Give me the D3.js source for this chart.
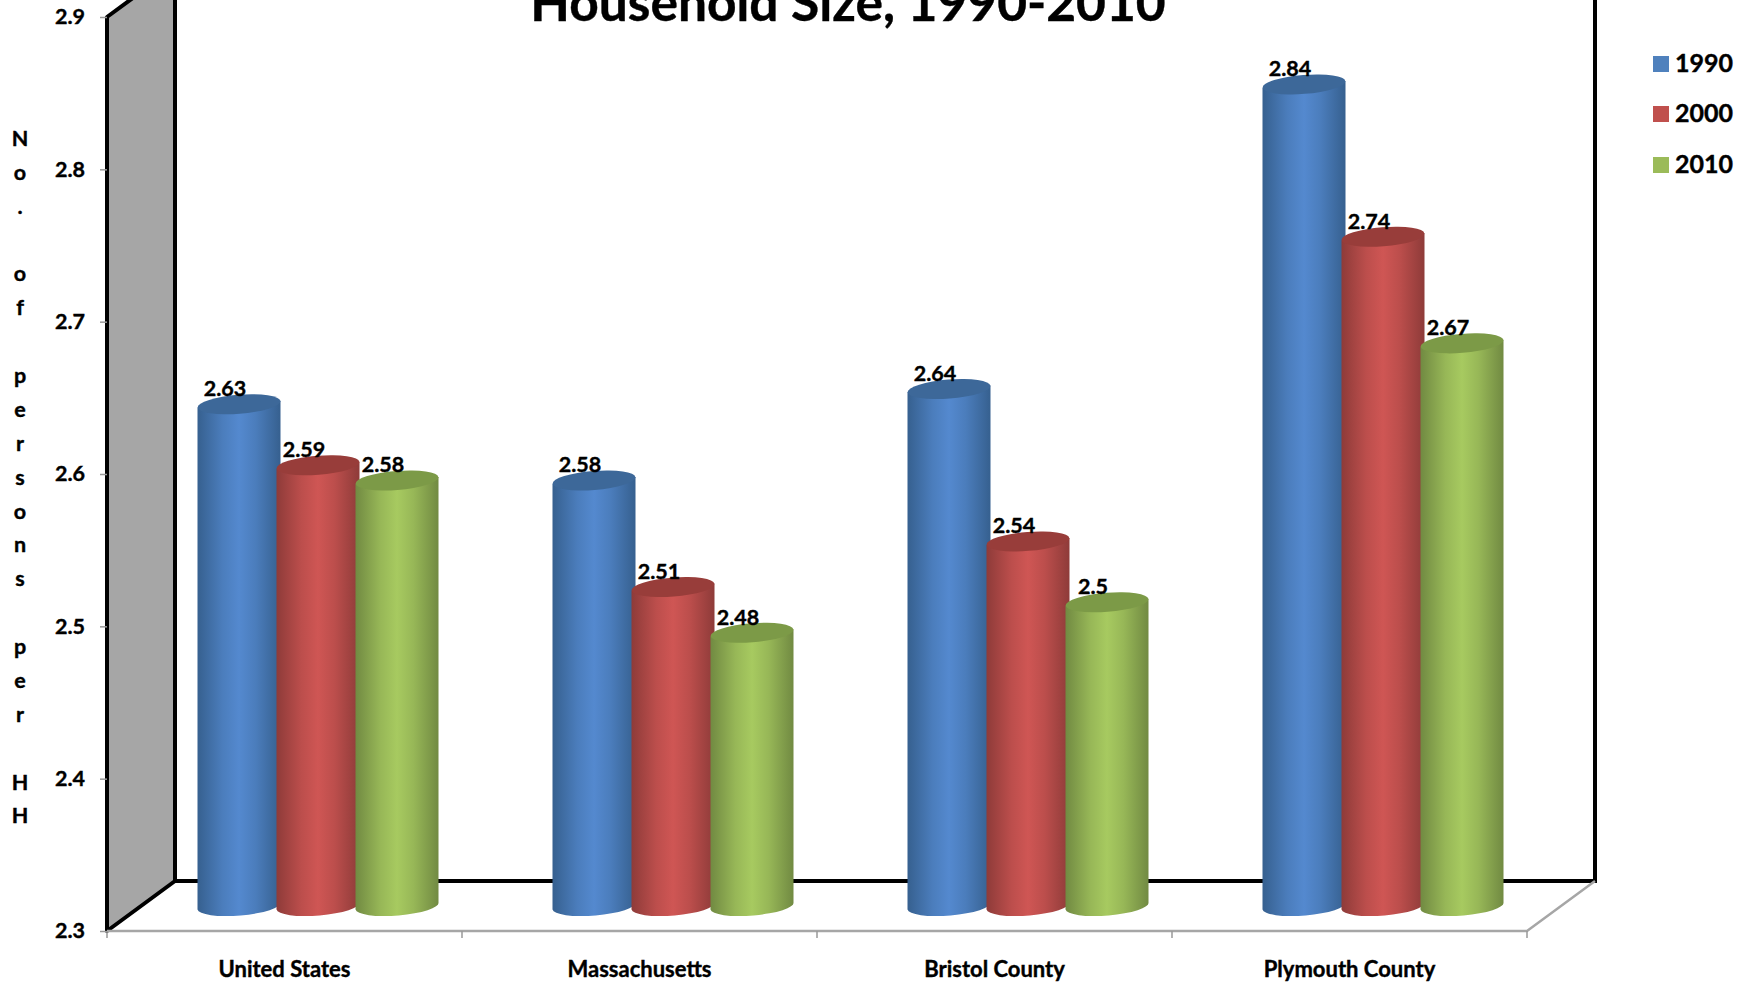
<!DOCTYPE html>
<html>
<head>
<meta charset="utf-8">
<script src="https://cdnjs.cloudflare.com/ajax/libs/d3/7.8.5/d3.min.js"></script>
<style>
  html, body { margin: 0; background: #fff; overflow: hidden; }
  text { font-family: Lato, sans-serif; font-weight: 700; fill: #000; stroke: #000; stroke-width: 0.4px; }
</style>
</head>
<body>
<svg id="chart"></svg>
<script>
const CATEGORIES = ['United States', 'Massachusetts', 'Bristol County', 'Plymouth County'];
const YEARS = ['1990', '2000', '2010'];
const VALUES_1990 = [2.63, 2.58, 2.64, 2.84];
const VALUES_2000 = [2.59, 2.51, 2.54, 2.74];
const VALUES_2010 = [2.58, 2.48, 2.5, 2.67];
const Y_TICKS = [2.3, 2.4, 2.5, 2.6, 2.7, 2.8, 2.9];
const Y_TITLE = 'No. of persons per HH';
const TITLE = 'Household Size, 1990-2010';

const WIDTH = 1754;
const HEIGHT = 985;
const LEFT = 107, RIGHT = 1527, TOP = 17, BOTTOM = 931;
const DEPTH_X = 68, DEPTH_Y = 50; // 3d box offset, front to back

const series = [
  { year: YEARS[0], values: VALUES_1990, key: '#4f81bd', edge: '#36608f', mid: '#5489cf', top: '#3d6899' },
  { year: YEARS[1], values: VALUES_2000, key: '#c0504d', edge: '#8e3b39', mid: '#cf5654', top: '#983d3a' },
  { year: YEARS[2], values: VALUES_2010, key: '#9bbb59', edge: '#718a42', mid: '#a7ca60', top: '#7c9a47' }
];

const svg = d3.select('#chart').attr('width', WIDTH).attr('height', HEIGHT);

const x = d3.scaleBand().domain(CATEGORIES).range([LEFT, RIGHT]);
const y = d3.scaleLinear().domain([2.3, 2.9]).range([BOTTOM, TOP]);
// bars step by 79px but are 83px wide, so they overlap a little
const xYear = d3.scaleBand().domain(YEARS).range([-119, 118]);
const RX = 41.5, RY = 9.5, TILT = -4.5;
const TIP = 3.5; // how far the tilted ellipse ends sit from the centre line
const TOP_SHIFT = 1;

const defs = svg.append('defs');
series.forEach((s, i) => {
  const grad = defs.append('linearGradient').attr('id', 'cyl' + i);
  [[0, s.edge], [0.3, d3.interpolateRgb(s.edge, s.mid)(0.7)], [0.5, s.mid], [0.7, d3.interpolateRgb(s.edge, s.mid)(0.7)], [1, s.edge]]
    .forEach(d => grad.append('stop').attr('offset', d[0]).attr('stop-color', d[1]));
});

// side wall
const wall = [[LEFT, TOP], [LEFT + DEPTH_X, TOP - DEPTH_Y], [LEFT + DEPTH_X, BOTTOM - DEPTH_Y], [LEFT, BOTTOM]];
svg.append('path')
  .attr('d', d3.line()(wall) + 'Z')
  .attr('fill', '#a6a6a6')
  .attr('stroke', '#000')
  .attr('stroke-width', 4)
  .attr('stroke-linejoin', 'round');

// back wall lines
svg.append('path')
  .attr('d', d3.line()([[LEFT + DEPTH_X, BOTTOM - DEPTH_Y], [RIGHT + DEPTH_X, BOTTOM - DEPTH_Y], [RIGHT + DEPTH_X, TOP - DEPTH_Y]]))
  .attr('fill', 'none')
  .attr('stroke', '#000')
  .attr('stroke-width', 4);

// floor outline
svg.append('path')
  .attr('d', d3.line()([[LEFT, BOTTOM], [RIGHT, BOTTOM], [RIGHT + DEPTH_X, BOTTOM - DEPTH_Y]]))
  .attr('fill', 'none')
  .attr('stroke', '#a6a6a6')
  .attr('stroke-width', 2.5);

// y axis
const yAxis = svg.append('g')
  .attr('transform', `translate(${LEFT},0)`)
  .call(d3.axisLeft(y).tickValues(Y_TICKS).tickSize(7).tickPadding(15).tickFormat(d3.format('.1f')));
yAxis.select('.domain').remove();
yAxis.selectAll('line').attr('stroke', '#999').attr('stroke-width', 1.5);
yAxis.selectAll('text').style('font-size', '21.5px');

// x axis: labels from the band scale, ticks on the band edges
const xAxis = svg.append('g')
  .attr('transform', `translate(0,${BOTTOM})`)
  .call(d3.axisBottom(x).tickSize(0).tickPadding(30));
xAxis.select('.domain').remove();
xAxis.selectAll('text').style('font-size', '22px');
xAxis.selectAll('.edge')
  .data(CATEGORIES.concat(['end']))
  .enter()
  .append('line')
  .attr('x1', d => d === 'end' ? RIGHT : x(d))
  .attr('x2', d => d === 'end' ? RIGHT : x(d))
  .attr('y1', 0)
  .attr('y2', 7)
  .attr('stroke', '#999')
  .attr('stroke-width', 1.5);

// cylinders
const barX = (cat, year) => x(cat) + x.bandwidth() / 2 + DEPTH_X / 2 + xYear(year) + xYear.bandwidth() / 2;
const floorY = y(2.3) - DEPTH_Y / 2;

series.forEach((s, i) => {
  const bars = svg.append('g').selectAll('g')
    .data(CATEGORIES.map((c, j) => ({ cat: c, value: s.values[j] })))
    .enter()
    .append('g');

  bars.append('path')
    .attr('fill', `url(#cyl${i})`)
    .attr('d', d => {
      const cx = barX(d.cat, s.year), top = y(d.value) - DEPTH_Y / 2 + TOP_SHIFT;
      return `M${cx - RX},${top + TIP}L${cx - RX},${floorY + TIP}` +
        `A${RX},${RY} ${TILT} 0 0 ${cx + RX},${floorY - TIP}L${cx + RX},${top - TIP}Z`;
    });

  bars.append('ellipse')
    .attr('rx', RX)
    .attr('ry', RY)
    .attr('fill', s.top)
    .attr('transform', d => `translate(${barX(d.cat, s.year)},${y(d.value) - DEPTH_Y / 2 + TOP_SHIFT}) rotate(${TILT})`);
});

// data labels go on top of every bar
series.forEach(s => {
  svg.append('g').selectAll('text')
    .data(CATEGORIES.map((c, j) => ({ cat: c, value: s.values[j] })))
    .enter()
    .append('text')
    .text(d => d.value)
    .attr('x', d => barX(d.cat, s.year) - 14)
    .attr('y', d => y(d.value) - 32)
    .attr('text-anchor', 'middle')
    .style('font-size', '21.5px');
});

// title, cut off by the top of the picture
svg.append('text')
  .text(TITLE)
  .attr('x', 848)
  .attr('y', 21)
  .attr('text-anchor', 'middle')
  .style('font-size', '51.5px');

// stacked y title
svg.append('g').selectAll('text')
  .data(Y_TITLE.split(''))
  .enter()
  .append('text')
  .text(d => d)
  .attr('x', 20)
  .attr('y', (d, i) => 146 + i * 33.87)
  .attr('text-anchor', 'middle')
  .style('font-size', '21.5px');

// legend
const legend = svg.append('g').selectAll('g')
  .data(series)
  .enter()
  .append('g')
  .attr('transform', (d, i) => `translate(1653,${[56, 106, 157][i]})`);
legend.append('rect').attr('width', 16).attr('height', 16).attr('fill', d => d.key);
legend.append('text')
  .text(d => d.year)
  .attr('x', 22)
  .attr('y', 16)
  .style('font-size', '25px');
</script>
</body>
</html>
